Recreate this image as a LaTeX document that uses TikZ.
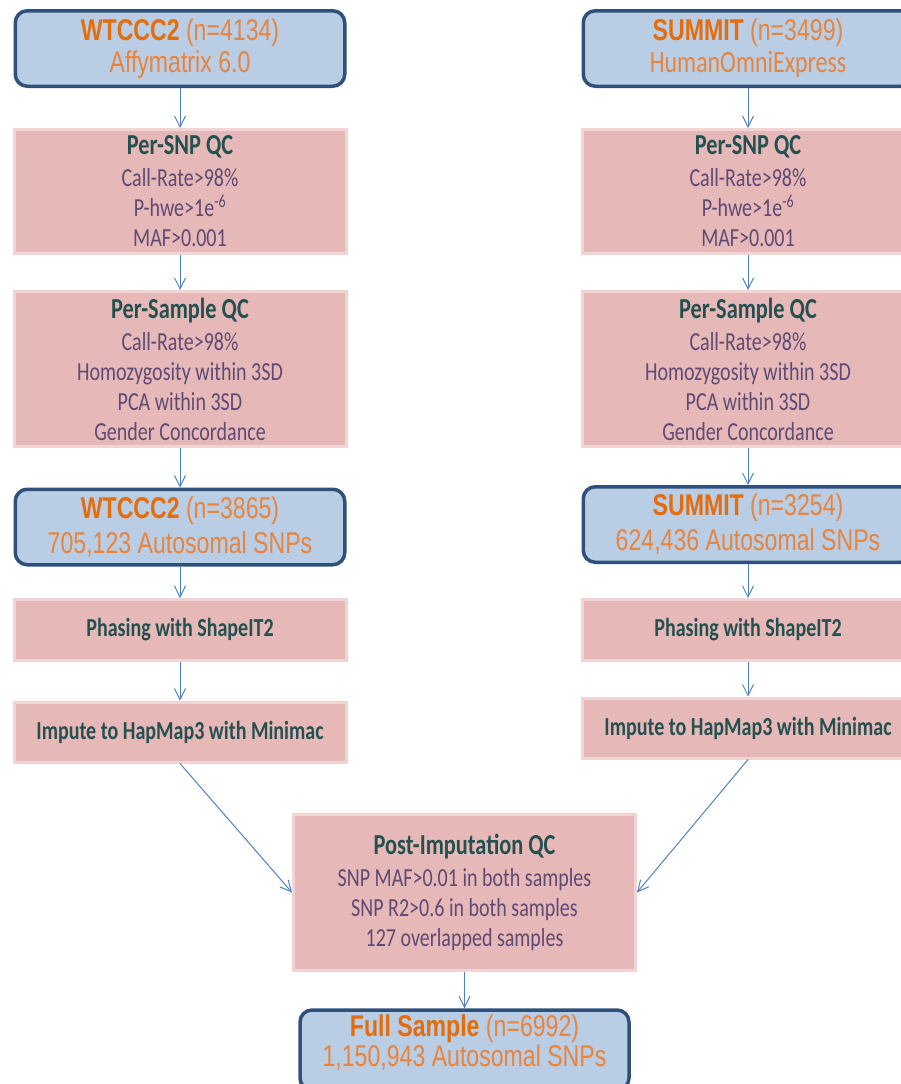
\documentclass[tikz,border=0pt]{standalone}
\usepackage{fontspec}
\setmainfont{Carlito}[FakeStretch=0.77]
\newfontfamily\arialf{Liberation Sans}[FakeStretch=0.77]
\usetikzlibrary{arrows.meta}
\definecolor{bluefill}{HTML}{B9CDE5}
\definecolor{blueline}{HTML}{2F5079}
\definecolor{pinkfill}{HTML}{E6B9B8}
\definecolor{pinkline}{HTML}{F1D4D3}
\definecolor{tealtxt}{HTML}{24504F}
\definecolor{bodytxt}{HTML}{5F4A74}
\definecolor{orangeA}{HTML}{E46C0A}
\definecolor{orangeB}{HTML}{E8843C}
\definecolor{arrowc}{HTML}{4F81BD}
\newcommand{\ptitle}[1]{{\fontsize{29}{30}\selectfont\bfseries\color{tealtxt}#1}}
\newcommand{\btitle}[1]{{\bfseries\color{orangeA}#1}}
\lineskiplimit=-100pt
\lineskip=0pt
\begin{document}
\begin{tikzpicture}[x=1pt,y=-1pt,
  bluebox/.style={draw=blueline, line width=3.5pt, fill=bluefill, rounded corners=12pt,
    minimum width=329.5pt, minimum height=75.5pt, align=center, inner sep=0pt,
    font=\arialf\fontsize{30}{32}\selectfont, text=orangeB},
  bluemid/.style={bluebox, font=\arialf\fontsize{30}{35}\selectfont},
  pinkbox/.style={draw=pinkline, line width=3pt, fill=pinkfill, minimum width=332pt,
    align=center, inner sep=0pt, font=\fontsize{26}{30}\selectfont, text=bodytxt},
  stepfont/.style={font=\fontsize{26}{30}\selectfont\bfseries, text=tealtxt},
  flow/.style={draw=arrowc, line width=1pt, -{Straight Barb[length=11pt,width=11pt]}},
]
\useasboundingbox (0,0) rectangle (901,1084);
\clip (0,0) rectangle (901,1084);

% left column
\node[bluebox] (w1) at (180,48.5) {\btitle{WTCCC2} (n=4134)\\ Affymatrix 6.0};
\node[pinkbox, minimum height=124pt] (s1) at (180,191.5)
  {\ptitle{Per-SNP QC}\\[2pt] Call-Rate>98\%\\ P-hwe>1e\textsuperscript{-6}\\ MAF>0.001};
\node[pinkbox, minimum height=155pt] (p1) at (180,369)
  {\ptitle{Per-Sample QC}\\[2pt] Call-Rate>98\%\\ Homozygosity within 3SD\\ PCA within 3SD\\ Gender Concordance};
\node[bluemid] (w2) at (180,527) {\btitle{WTCCC2} (n=3865)\\ 705,123 Autosomal SNPs};
\node[pinkbox, stepfont, minimum height=61pt] (ph1) at (180,630) {Phasing with ShapeIT2};
\node[pinkbox, stepfont, minimum height=60pt] (im1) at (180,732) {Impute to HapMap3 with Minimac};

% right column
\node[bluebox] (u1) at (748,48.5) {\btitle{SUMMIT} (n=3499)\\ {\rmfamily\fontsize{31}{32}\selectfont HumanOmniExpress}};
\node[pinkbox, minimum height=124pt] (s2) at (748,191.5)
  {\ptitle{Per-SNP QC}\\[2pt] Call-Rate>98\%\\ P-hwe>1e\textsuperscript{-6}\\ MAF>0.001};
\node[pinkbox, minimum height=155pt] (p2) at (748,369)
  {\ptitle{Per-Sample QC}\\[2pt] Call-Rate>98\%\\ Homozygosity within 3SD\\ PCA within 3SD\\ Gender Concordance};
\node[bluemid] (u2) at (748,524.5) {\btitle{SUMMIT} (n=3254)\\ 624,436 Autosomal SNPs};
\node[pinkbox, stepfont, minimum height=61pt] (ph2) at (748,630) {Phasing with ShapeIT2};
\node[pinkbox, stepfont, minimum height=60pt] (im2) at (748,728) {Impute to HapMap3 with Minimac};

% merge
\node[pinkbox, minimum width=342pt, minimum height=156pt] (post) at (464.5,892.5)
  {\ptitle{Post-Imputation QC}\\[2pt] SNP MAF>0.01 in both samples\\ SNP R2>0.6 in both samples\\ 127 overlapped samples};
\node[bluebox, minimum width=329pt, minimum height=80pt] (full) at (464.5,1050) {};
\node[align=center, inner sep=0pt, font=\arialf\fontsize{30}{30}\selectfont, text=orangeB] (fulltxt) at (464.5,1043)
  {\btitle{Full Sample} (n=6992)\\ 1,150,943 Autosomal SNPs};

% connectors
\draw[flow] (w1) -- (s1);
\draw[flow] (s1) -- (p1);
\draw[flow] (p1) -- (w2);
\draw[flow] (w2) -- (ph1);
\draw[flow] (ph1) -- (im1);
\draw[flow] (u1) -- (s2);
\draw[flow] (s2) -- (p2);
\draw[flow] (p2) -- (u2);
\draw[flow] (u2) -- (ph2);
\draw[flow] (ph2) -- (im2);
\draw[flow] (im1.south) -- (post.west);
\draw[flow] (im2.south) -- (post.east);
\draw[flow] (post) -- (full);
\end{tikzpicture}
\end{document}
